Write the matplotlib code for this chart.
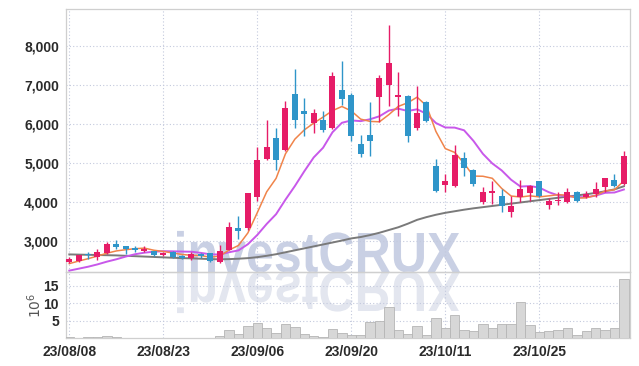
import matplotlib
matplotlib.use("Agg")
import matplotlib.pyplot as plt
import numpy as np
from matplotlib.textpath import TextPath
from matplotlib.patches import PathPatch
from matplotlib.font_manager import FontProperties
from matplotlib.transforms import Affine2D

# daily candles, 23/08/08 .. 23/11/07 (60 trading days)
opens = [2480, 2490, 2680, 2600, 2690, 2930, 2870, 2840, 2760, 2750,
         2660, 2720, 2620, 2570, 2670, 2690, 2460, 2790, 3330, 3330,
         4130, 5100, 5640, 5330, 6770, 6330, 6020, 6100, 5900, 6870,
         6740, 5490, 5720, 6690, 7000, 6700, 6720, 5900, 6560, 4920,
         4440, 4410, 5130, 4820, 4000, 4230, 4150, 3740, 4130, 4230,
         4540, 3920, 4020, 4000, 4260, 4130, 4200, 4380, 4560, 4460]
highs = [2600, 2650, 2720, 2800, 2990, 3030, 2880, 2870, 2870, 2760,
         2720, 2740, 2640, 2720, 2700, 2700, 2900, 3490, 3640, 4230,
         5410, 6100, 5900, 6590, 7410, 6670, 6380, 6330, 7330, 7610,
         6800, 5720, 6560, 7260, 8540, 7330, 6750, 6970, 6580, 5100,
         4720, 5460, 5280, 4840, 4380, 4540, 4330, 4150, 4560, 4440,
         4540, 4100, 4260, 4360, 4280, 4280, 4510, 4620, 4720, 5310]
lows = [2440, 2480, 2560, 2530, 2680, 2800, 2680, 2720, 2720, 2620,
        2620, 2580, 2540, 2530, 2580, 2460, 2440, 2780, 3060, 3300,
        4030, 5080, 4820, 5300, 5900, 5700, 5770, 5790, 5880, 6490,
        5560, 5150, 5180, 6050, 6460, 6200, 5540, 5850, 6050, 4260,
        4260, 4400, 4670, 4410, 3950, 3950, 3740, 3620, 4000, 4030,
        4130, 3820, 3920, 3990, 4010, 4100, 4130, 4260, 4380, 4430]
closes = [2560, 2640, 2640, 2720, 2920, 2850, 2800, 2770, 2790, 2650,
          2700, 2600, 2580, 2680, 2620, 2490, 2740, 3360, 3260, 4230,
          5080, 5410, 5080, 6410, 6100, 6260, 6280, 5850, 7230, 6640,
          5690, 5230, 5560, 7180, 7560, 6740, 5690, 6280, 6080, 4280,
          4540, 5200, 4870, 4460, 4260, 4280, 3900, 3900, 4330, 4410,
          4150, 4030, 4050, 4260, 4030, 4210, 4330, 4620, 4410, 5180]
# volume in millions
volumes = [0.4, 0.05, 0.3, 0.3, 0.6, 0.3, 0.05, 0.05, 0.05, 0.05,
           0.05, 0.05, 0.05, 0.05, 0.05, 0.05, 0.5, 2.2, 1.1, 3.3,
           4.2, 2.8, 1.4, 3.9, 3.1, 1.1, 0.6, 0.4, 2.5, 1.4,
           1.0, 0.8, 4.6, 5.0, 8.9, 2.3, 1.1, 3.3, 0.9, 5.6,
           2.8, 6.6, 2.3, 1.9, 3.9, 2.8, 3.9, 3.9, 10.3, 3.6,
           1.8, 1.9, 2.3, 3.0, 1.0, 1.9, 2.8, 2.2, 3.0, 16.8]

ma5 = [2430, 2495, 2556, 2623, 2696, 2754, 2786, 2812, 2826, 2772,
       2742, 2702, 2664, 2642, 2636, 2594, 2622, 2778, 2894, 3216,
       3734, 4268, 4612, 5242, 5616, 5852, 6026, 6180, 6344, 6452,
       6338, 6128, 6070, 6060, 6244, 6454, 6546, 6690, 6470, 5814,
       5374, 5276, 4994, 4670, 4666, 4614, 4354, 4160, 4134, 4164,
       4138, 4164, 4194, 4180, 4104, 4116, 4176, 4290, 4320, 4550]
ma10 = [2250, 2300, 2350, 2410, 2480, 2540, 2610, 2670, 2710, 2734,
        2748, 2744, 2738, 2734, 2704, 2668, 2662, 2721, 2768, 2926,
        3164, 3445, 3695, 4068, 4416, 4793, 5147, 5396, 5793, 6034,
        6095, 6077, 6125, 6202, 6348, 6396, 6337, 6380, 6265, 6029,
        5914, 5911, 5842, 5570, 5240, 4994, 4815, 4577, 4402, 4415,
        4376, 4259, 4177, 4157, 4134, 4127, 4170, 4242, 4250, 4327]
ma60 = [2665, 2660, 2655, 2650, 2645, 2640, 2630, 2620, 2610, 2600,
        2590, 2580, 2570, 2565, 2555, 2545, 2540, 2545, 2555, 2570,
        2595, 2630, 2670, 2720, 2770, 2820, 2870, 2920, 2970, 3020,
        3075, 3110, 3160, 3220, 3290, 3360, 3450, 3550, 3620, 3680,
        3730, 3770, 3810, 3845, 3875, 3905, 3935, 3965, 3995, 4025,
        4055, 4085, 4115, 4145, 4175, 4205, 4240, 4280, 4330, 4410]

tick_labels = ["23/08/08", "23/08/23", "23/09/06", "23/09/20", "23/10/11", "23/10/25"]

UP = "#e61c67"
DOWN = "#2f95c9"
GRID = "#c3c9dd"
FONT = ["Liberation Sans", "DejaVu Sans"]

plt.rcParams["font.family"] = FONT

W, H = 639, 366
fig = plt.figure(figsize=(W / 100, H / 100), dpi=100, facecolor="white")
ax = fig.add_axes([66 / W, 1 - 272 / H, (630 - 66) / W, (272 - 9) / H])
axv = fig.add_axes([66 / W, 1 - 338 / H, (630 - 66) / W, (338 - 272) / H], sharex=ax)

x = np.arange(len(closes))
o = np.array(opens)
c = np.array(closes)
colors = [UP if cc >= oo else DOWN for oo, cc in zip(o, c)]

# moving averages
ax.plot(x, ma60, color="#7a7a7a", lw=1.4, zorder=2)
ax.plot(x, ma10, color="#c858ea", lw=1.4, zorder=2)
ax.plot(x, ma5, color="#f0844a", lw=1.1, zorder=2)

# candles
ax.vlines(x, lows, highs, colors=colors, lw=1.0, zorder=3)
body = np.maximum(np.abs(c - o), 40)
ax.bar(x, body, bottom=np.minimum(o, c), width=0.64, color=colors, zorder=4)

# volume
axv.bar(x, volumes, width=1.0, facecolor="#d7d7d7", edgecolor="#b5b5b5", lw=0.6, zorder=3)

for a in (ax, axv):
    a.set_facecolor("none")
    a.grid(True, color=GRID, linestyle=(0, (1, 2)), lw=0.8)
    a.set_axisbelow(True)
    a.tick_params(length=0, labelsize=10, colors="#2a2a2a", pad=5)
    for s in a.spines.values():
        s.set_color("#cfcfcf")
        s.set_linewidth(0.9)

ax.set_xlim(-0.35, 59.65)
ax.set_ylim(2215, 8947)
ax.set_yticks([3000, 4000, 5000, 6000, 7000, 8000])
ax.set_yticklabels(["3,000", "4,000", "5,000", "6,000", "7,000", "8,000"], fontweight="bold")
ax.tick_params(labelbottom=False)

axv.set_ylim(0, 18.9)
axv.set_yticks([5, 10, 15])
axv.set_yticklabels(["5", "10", "15"], fontweight="bold")
axv.set_xticks(np.arange(0, 60, 10))
axv.set_xticklabels(tick_labels, fontweight="bold")
axv.set_ylabel(r"$10^6$", color="#555555", fontsize=10, labelpad=0)

# watermark with reflection
fp = FontProperties(family=FONT, weight="bold")
tp = TextPath((0, 0), "investCRUX", size=100, prop=fp)
ext = tp.get_extents()
cap = TextPath((0, 0), "X", size=100, prop=fp).get_extents().height
kx = (460 - 177) / ext.width
ky = 39 / cap
base = H - 272
tr = Affine2D().translate(-ext.x0, 0).scale(kx, ky).translate(177, base)
fig.add_artist(PathPatch(tp, transform=tr, facecolor="#c9d0e4", edgecolor="none", zorder=-1))
tr2 = Affine2D().translate(-ext.x0, 0).scale(kx, -ky).translate(177, base)
fig.add_artist(PathPatch(tp, transform=tr2, facecolor="#e3e6ef", edgecolor="none", zorder=-1))

fig.savefig("out.png", dpi=100, facecolor="white")
